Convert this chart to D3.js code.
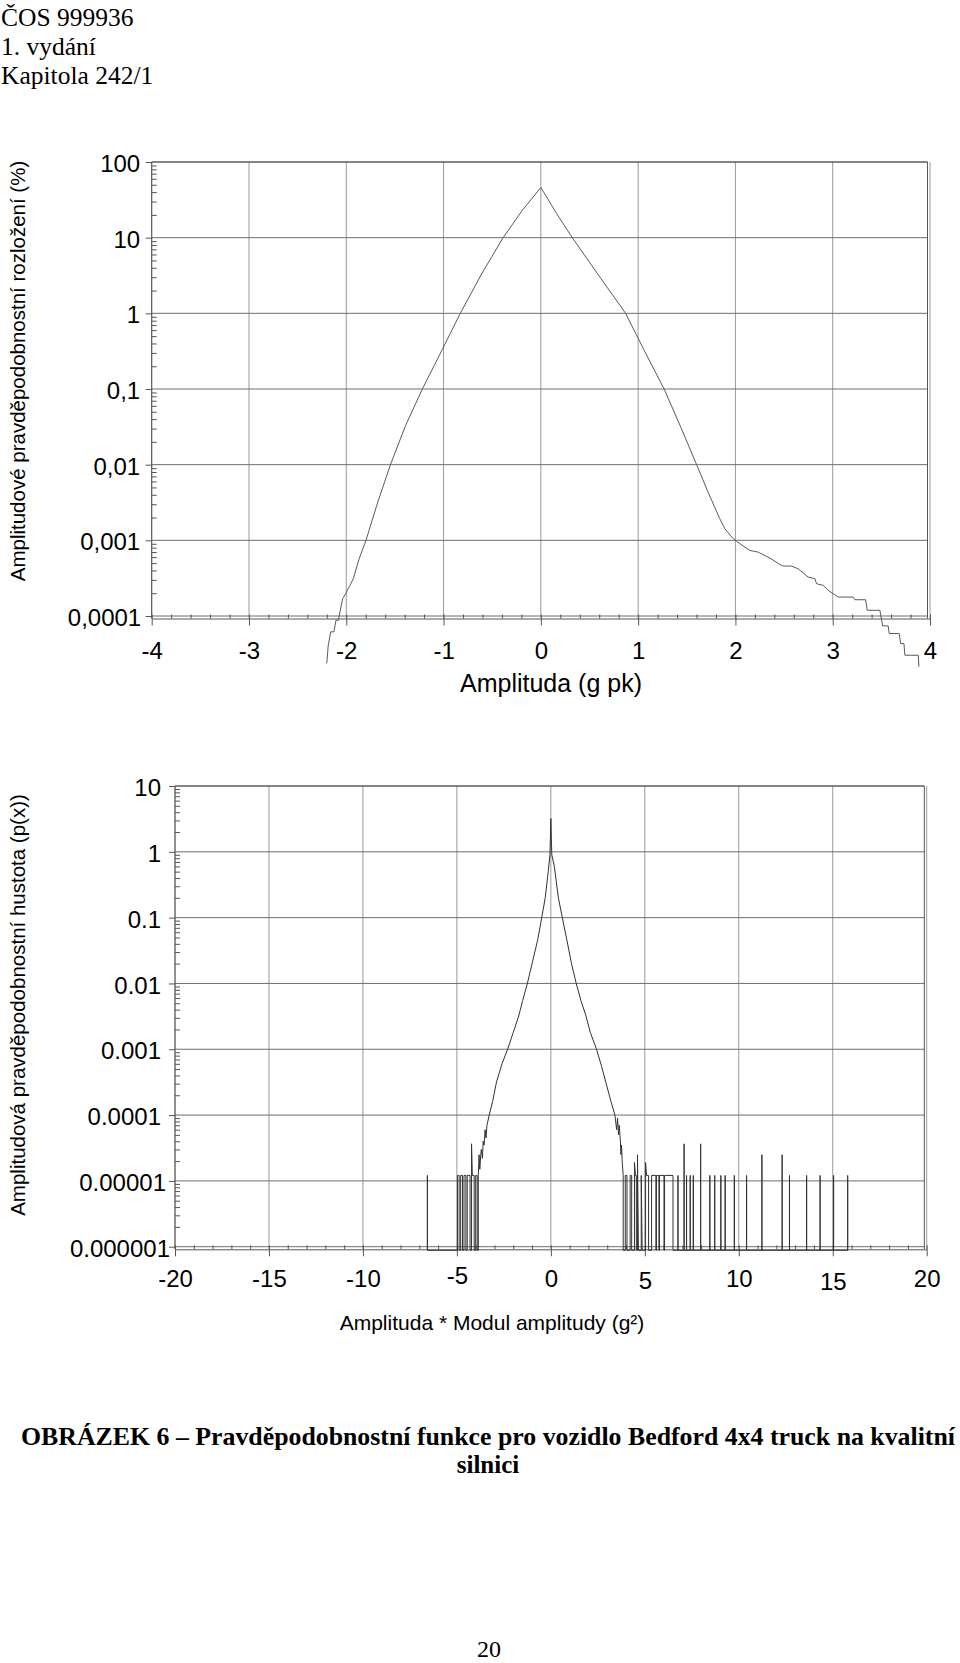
<!DOCTYPE html>
<html><head><meta charset="utf-8">
<script src="https://cdn.jsdelivr.net/npm/d3@7"></script>
<style>body{margin:0;background:#fff}svg{display:block}</style>
</head><body>
<svg id="page" width="960" height="1663"></svg>
<script>
// ---------------- data ----------------
const headerLines = ["ČOS 999936", "1. vydání", "Kapitola 242/1"];
const captionLines = ["OBRÁZEK 6 – Pravděpodobnostní funkce pro vozidlo Bedford 4x4 truck na kvalitní", "silnici"];
const pageNumber = "20";

// top chart: amplitude probability distribution (%)
const topXTicks = [-4, -3, -2, -1, 0, 1, 2, 3, 4];
const topXTickLabels = ["-4", "-3", "-2", "-1", "0", "1", "2", "3", "4"];
const topYTicks = [100, 10, 1, 0.1, 0.01, 0.001, 0.0001];
const topYTickLabels = ["100", "10", "1", "0,1", "0,01", "0,001", "0,0001"];
const topXTitle = "Amplituda (g pk)";
const topYTitle = "Amplitudové pravděpodobnostní rozložení (%)";
const distX = [-2.201, -2.185, -2.160, -2.127, -2.106, -2.082, -2.065, -2.037, -1.996, -1.990, -1.962, -1.928,
  -1.870, -1.797, -1.680, -1.546, -1.390, -1.218, -1.020, -0.828, -0.610, -0.388, -0.190, 0.000,
  0.160, 0.323, 0.600, 0.871, 1.070, 1.267, 1.440, 1.601, 1.720, 1.840, 1.892, 1.978, 2.046,
  2.149, 2.234, 2.355, 2.457, 2.491, 2.577, 2.645, 2.748, 2.817, 2.834, 2.902, 2.954, 3.005, 3.057, 3.211,
  3.228, 3.338, 3.355, 3.485, 3.513, 3.570, 3.581, 3.684, 3.698, 3.732, 3.742, 3.879, 3.886];
const distP = [2.36e-5, 4.11e-5, 6.18e-5, 6.18e-5, 8.77e-5, 8.77e-5, 1.13e-4, 1.70e-4, 2.07e-4, 2.18e-4, 2.54e-4, 3.11e-4,
  5.6e-4, 0.001, 0.0031, 0.01, 0.033, 0.1, 0.32, 1, 3.3, 10, 23, 46,
  21, 10, 3.1, 1, 0.31, 0.1, 0.031, 0.01, 4.3e-3, 1.92e-3, 1.42e-3, 1.05e-3, 9.0e-4,
  7.35e-4, 6.98e-4, 5.82e-4, 4.80e-4, 4.57e-4, 4.57e-4, 4.21e-4, 3.27e-4, 3.11e-4, 2.67e-4, 2.54e-4, 2.18e-4, 1.97e-4, 1.78e-4, 1.78e-4,
  1.64e-4, 1.64e-4, 1.19e-4, 1.19e-4, 7.40e-5, 7.40e-5, 5.86e-5, 5.86e-5, 4.33e-5, 4.33e-5, 3.03e-5, 3.03e-5, 2.13e-5];

// bottom chart: amplitude probability density
const botXTicks = [-20, -15, -10, -5, 0, 5, 10, 15, 20];
const botXTickLabels = ["-20", "-15", "-10", "-5", "0", "5", "10", "15", "20"];
const botYTicks = [10, 1, 0.1, 0.01, 0.001, 0.0001, 0.00001, 0.000001];
const botYTickLabels = ["10", "1", "0.1", "0.01", "0.001", "0.0001", "0.00001", "0.000001"];
const botXTitle = "Amplituda * Modul amplitudy (g²)";
const botYTitle = "Amplitudová pravděpodobnostní hustota (p(x))";
// 0 = empty bin (drawn on the axis)
const densX = [-6.57, -6.57, -6.57,
  -4.97, -4.97, -4.88, -4.88, -4.80, -4.80, -4.70, -4.70, -4.62, -4.62, -4.52, -4.52,
  -4.45, -4.45, -4.30, -4.30, -4.22, -4.22, -4.18, -4.08, -4.08, -4.00, -4.00, -3.92, -3.92, -3.86, -3.86,
  -3.82, -3.78, -3.73, -3.70, -3.64, -3.60, -3.55, -3.50, -3.45, -3.40, -3.28, -3.10, -2.89, -2.60, -2.30, -2.00,
  -1.71, -1.50, -1.25, -1.00, -0.70, -0.485, -0.30, -0.14, -0.05, 0.00, 0.05, 0.186, 0.40, 0.61, 0.85, 1.10,
  1.35, 1.60, 1.87, 2.10, 2.43, 2.70, 2.92, 3.20, 3.41, 3.50, 3.55, 3.60, 3.64, 3.70, 3.73, 3.76, 3.80, 3.85, 3.85,
  3.96, 3.96, 4.05, 4.05, 4.22, 4.22, 4.30, 4.30, 4.45, 4.45, 4.50, 4.55, 4.55, 4.61, 4.61, 4.66, 4.81, 4.81, 4.86,
  5.04, 5.04, 5.09, 5.20, 5.20, 5.36, 5.36, 5.59, 5.59, 5.62, 5.62, 5.75, 5.75, 5.78, 5.78, 6.02, 6.02, 6.05, 6.05, 6.50, 6.50,
  6.765, 6.765, 6.765, 7.091, 7.091, 7.091, 7.221, 7.221, 7.221, 7.417, 7.417, 7.417, 7.58, 7.58, 7.58,
  7.971, 7.971, 7.971, 8.46, 8.46, 8.46, 8.72, 8.72, 8.72, 9.046, 9.046, 9.046, 9.275, 9.275, 9.275,
  9.764, 9.764, 9.764, 10.416, 10.416, 10.416, 11.231, 11.231, 11.231, 12.307, 12.307, 12.307,
  12.698, 12.698, 12.698, 13.61, 13.61, 13.61, 14.328, 14.328, 14.328, 15.045, 15.045, 15.045, 15.795, 15.795, 15.795];
const densP = [0, 1.21e-5, 0,
  0, 1.21e-5, 1.21e-5, 0, 0, 1.21e-5, 1.21e-5, 0, 0, 1.21e-5, 1.21e-5, 0,
  0, 1.21e-5, 1.21e-5, 0, 0, 3.66e-5, 1.21e-5, 1.21e-5, 0, 0, 1.21e-5, 1.21e-5, 0, 0, 1.21e-5,
  2.5e-5, 1.5e-5, 2.5e-5, 3.0e-5, 2.2e-5, 4.0e-5, 3.5e-5, 6.0e-5, 4.5e-5, 7.0e-5, 1.0e-4, 1.6e-4, 3.2e-4, 6.0e-4, 1.0e-3, 1.8e-3,
  3.2e-3, 5.5e-3, 0.01, 0.02, 0.046, 0.1, 0.2, 0.5, 0.9, 3.2, 0.9, 0.6, 0.2, 0.1, 0.046, 0.02,
  0.01, 5.5e-3, 3.2e-3, 1.8e-3, 1.0e-3, 5.5e-4, 3.2e-4, 1.6e-4, 1.0e-4, 6.0e-5, 9.0e-5, 5.0e-5, 7.0e-5, 4.0e-5, 2.5e-5, 3.5e-5, 1.9e-5, 1.21e-5, 0,
  0, 1.21e-5, 1.21e-5, 0, 0, 1.21e-5, 1.21e-5, 0, 0, 1.9e-5, 1.21e-5, 1.21e-5, 0, 0, 2.49e-5, 0, 0, 1.21e-5, 0,
  0, 1.9e-5, 1.21e-5, 1.21e-5, 0, 0, 1.21e-5, 1.21e-5, 0, 0, 1.21e-5, 1.21e-5, 0, 0, 1.21e-5, 1.21e-5, 0, 0, 1.21e-5, 1.21e-5, 0,
  0, 1.21e-5, 0, 0, 3.66e-5, 0, 0, 1.21e-5, 0, 0, 1.21e-5, 0, 0, 1.21e-5, 0,
  0, 3.66e-5, 0, 0, 1.21e-5, 0, 0, 1.21e-5, 0, 0, 1.21e-5, 0, 0, 1.21e-5, 0,
  0, 1.21e-5, 0, 0, 1.21e-5, 0, 0, 2.49e-5, 0, 0, 2.49e-5, 0,
  0, 1.21e-5, 0, 0, 1.21e-5, 0, 0, 1.21e-5, 0, 0, 1.21e-5, 0, 0, 1.21e-5, 0];

// ---------------- drawing ----------------
const SANS = "'Liberation Sans', Arial, Helvetica, sans-serif";
const SERIF = "'Liberation Serif', 'Times New Roman', serif";
const GRID_H = "#6e6e6e", GRID_V = "#9a9a9a", AXIS = "#555";
const svg = d3.select("#page");

svg.append("g").selectAll("text").data(headerLines).join("text")
  .attr("x", 1).attr("y", (d, i) => 25.5 + i * 29)
  .style("font-family", SERIF).style("font-size", "25.5px").attr("fill", "#000").text(d => d);

function panel(o) {
  const g = svg.append("g");
  const x = d3.scaleLinear().domain(o.xDomain).range(o.xRange);
  const y = d3.scaleLog().domain(o.yDomain).range(o.yRange);
  const x0 = o.xRange[0], x1 = o.xRange[1], yb = o.yRange[0], yt = o.yRange[1];
  const frameR = x1 - o.frameInset, axisY = yb + o.axisOffset;

  // grid
  g.append("g").selectAll("line").data(o.xTicks).join("line")
    .attr("x1", d => x(d)).attr("x2", d => x(d)).attr("y1", yt).attr("y2", axisY)
    .attr("stroke", GRID_V).attr("stroke-width", 1);
  g.append("g").selectAll("line").data(o.yTicks).join("line")
    .attr("x1", x0).attr("x2", frameR).attr("y1", d => y(d)).attr("y2", d => y(d))
    .attr("stroke", GRID_H).attr("stroke-width", 1);
  g.append("line").attr("x1", frameR).attr("x2", frameR).attr("y1", yt).attr("y2", axisY)
    .attr("stroke", AXIS);
  g.append("line").attr("x1", x0).attr("x2", frameR).attr("y1", yt).attr("y2", yt).attr("stroke", AXIS);

  // minor y ticks (log 2..9)
  const minorY = y.ticks().filter(v => Math.abs(Math.log10(v) - Math.round(Math.log10(v))) > 1e-6);
  g.append("g").attr("transform", `translate(${x0},0)`)
    .call(d3.axisLeft(y).tickValues(minorY).tickSize(-5).tickSizeOuter(0).tickFormat(""))
    .call(s => s.select(".domain").remove())
    .selectAll("line").attr("stroke", AXIS);

  // left axis
  const ya = g.append("g").attr("transform", `translate(${x0},0)`)
    .call(d3.axisLeft(y).tickValues(o.yTicks).tickSize(6).tickSizeOuter(0).tickPadding(o.yPad)
      .tickFormat((d, i) => o.yLabels[i]));
  ya.select(".domain").remove();
  ya.selectAll("line").attr("stroke", AXIS);
  ya.selectAll("text").style("font-family", SANS).style("font-size", o.fs + "px").attr("fill", "#000")
    .attr("dy", "0.4em").attr("dx", (d, i) => o.yLabelDx[i]);
  g.append("line").attr("x1", x0).attr("x2", x0).attr("y1", yt).attr("y2", axisY).attr("stroke", AXIS);

  // minor x ticks
  g.append("g").attr("transform", `translate(0,${axisY})`)
    .call(d3.axisBottom(x).tickValues(o.xMinor).tickSize(-4).tickSizeOuter(0).tickFormat(""))
    .call(s => s.select(".domain").remove())
    .selectAll("line").attr("stroke", AXIS);

  // bottom axis
  const xa = g.append("g").attr("transform", `translate(0,${axisY})`)
    .call(d3.axisBottom(x).tickValues(o.xTicks).tickSize(7).tickSizeOuter(0).tickPadding(o.xPad)
      .tickFormat((d, i) => o.xLabels[i]));
  xa.select(".domain").attr("stroke", AXIS);
  xa.selectAll("line").attr("stroke", AXIS);
  xa.selectAll("text").style("font-family", SANS).style("font-size", o.fs + "px").attr("fill", "#000")
    .attr("transform", (d, i) => `translate(0,${o.xLabelDy[i]})`);

  // curve
  const line = d3.line().x(d => x(d[0])).y(d => d[1] > 0 ? y(d[1]) : axisY + 1);
  g.append("path").datum(d3.zip(o.dataX, o.dataY)).attr("d", line)
    .attr("fill", "none").attr("stroke", o.curveColor).attr("stroke-width", 1);

  // titles
  g.append("text").attr("x", o.xTitlePos[0]).attr("y", o.xTitlePos[1]).attr("text-anchor", "middle")
    .style("font-family", SANS).style("font-size", o.xTitleFs + "px").text(o.xTitle);
  g.append("text").attr("transform", `translate(${o.yTitlePos[0]},${o.yTitlePos[1]}) rotate(-90)`)
    .attr("text-anchor", "middle").attr("dy", "0.35em")
    .style("font-family", SANS).style("font-size", o.yTitleFs + "px").text(o.yTitle);
}

panel({
  xDomain: [-4, 4], xRange: [151.7, 930], yDomain: [1e-4, 100], yRange: [616, 162],
  frameInset: 2.5, axisOffset: 2.5, xTicks: topXTicks, xLabels: topXTickLabels,
  xLabelDy: [0, 0, 0, 0, 0, 0, 0, 0, 0],
  yTicks: topYTicks, yLabels: topYTickLabels, yLabelDx: [0, 0, 0, 0, 0, 0, 1],
  xMinor: d3.range(-4, 4.0001, 0.2),
  fs: 24, xPad: 16, yPad: 5.5,
  dataX: distX, dataY: distP, curveColor: "#5a5a5a",
  xTitle: topXTitle, xTitlePos: [551, 692], xTitleFs: 25,
  yTitle: topYTitle, yTitlePos: [18, 371], yTitleFs: 20.5
});

panel({
  xDomain: [-20, 20], xRange: [175, 926.7], yDomain: [1e-6, 10], yRange: [1246.7, 786],
  frameInset: 2.4, axisOffset: 2.6, xTicks: botXTicks, xLabels: botXTickLabels,
  xLabelDy: [0, 0, 0, -3, 0, 2, 0, 3, 0],
  yTicks: botYTicks, yLabels: botYTickLabels, yLabelDx: [0, 0, 0, 0, 0, 0, 5, 9],
  xMinor: d3.range(-20, 20.0001, 1),
  fs: 24, xPad: 14, yPad: 8,
  dataX: densX, dataY: densP, curveColor: "#333",
  xTitle: botXTitle, xTitlePos: [492, 1330], xTitleFs: 21,
  yTitle: botYTitle, yTitlePos: [18, 1005], yTitleFs: 20.5
});

// caption
svg.append("g").selectAll("text").data(captionLines).join("text")
  .attr("x", 488).attr("y", (d, i) => 1445 + i * 28).attr("text-anchor", "middle")
  .style("font-family", SERIF).style("font-weight", "bold").style("font-size", "25px")
  .each(function (d, i) { if (i === 0) d3.select(this).attr("textLength", 934).attr("lengthAdjust", "spacingAndGlyphs"); })
  .text(d => d);
svg.append("text").attr("x", 489).attr("y", 1657).attr("text-anchor", "middle")
  .style("font-family", SERIF).style("font-size", "24px").text(pageNumber);
</script>
</body></html>
